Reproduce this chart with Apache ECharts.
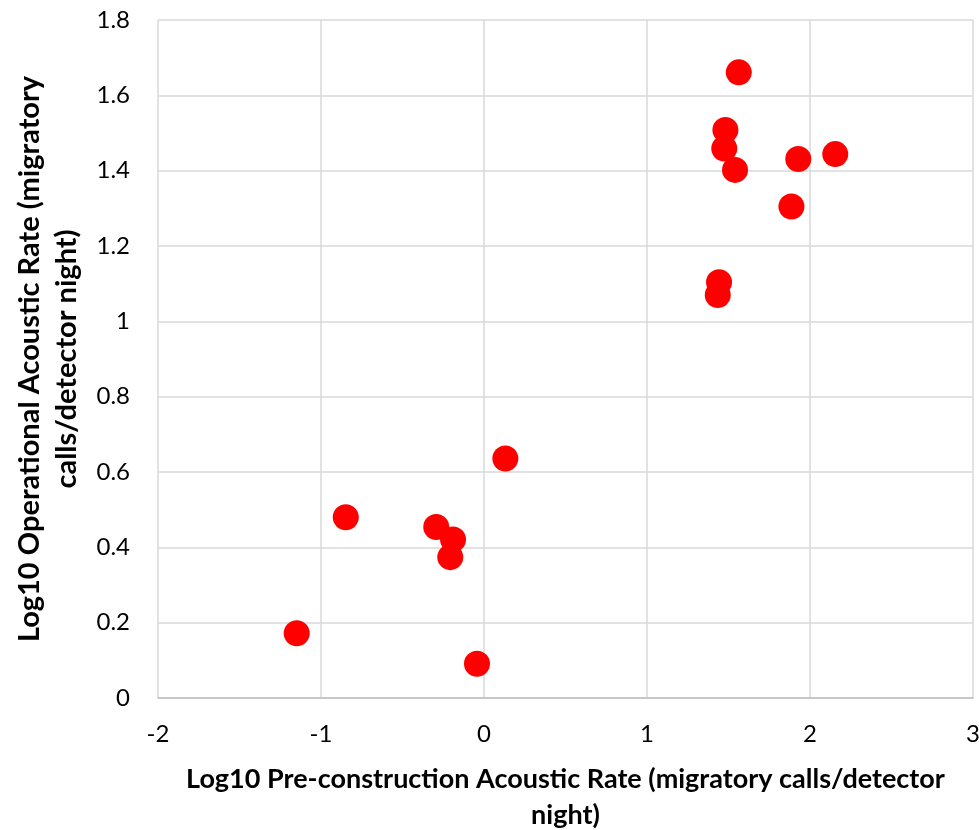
<!DOCTYPE html>
<html>
<head>
<meta charset="utf-8">
<script src="https://cdn.jsdelivr.net/npm/echarts@6/dist/echarts.min.js"></script>
<style>
  html, body { margin: 0; padding: 0; background: #fff; }
  #chart { width: 979px; height: 830px; }
</style>
</head>
<body>
<div id="chart"></div>
<script>
// Valores (log10)
const preRate = [-1.149, -0.848, -0.293, -0.190, -0.207, -0.043, 0.131,
                 1.442, 1.434, 1.540, 1.474, 1.481, 1.563, 1.928, 1.886, 2.155];
const opRate = [0.172, 0.480, 0.454, 0.421, 0.374, 0.091, 0.636,
                1.104, 1.070, 1.402, 1.459, 1.508, 1.661, 1.431, 1.305, 1.444];

const xTitle = 'Log10 Pre-construction Acoustic Rate (migratory calls/detector\nnight)';
const yTitle = 'Log10 Operational Acoustic Rate (migratory\ncalls/detector night)';

const points = preRate.map((x, i) => [x, opRate[i]]);

const chart = echarts.init(document.getElementById('chart'));
const fontFamily = 'Lato, "Open Sans", sans-serif';

chart.setOption({
    animation: false,
    grid: { left: 158, right: 6, top: 20, bottom: 132, outerBoundsMode: 'none' },
    xAxis: {
        type: 'value',
        min: -2,
        max: 3,
        interval: 1,
        name: xTitle,
        nameLocation: 'middle',
        nameGap: 63,
        nameTextStyle: { fontFamily, fontSize: 27, fontWeight: 'bold', color: '#000', lineHeight: 36 },
        axisLine: { show: true, lineStyle: { color: '#bfbfbf', width: 1.5 } },
        axisTick: { show: false },
        axisLabel: { fontFamily, fontSize: 24, color: '#000', margin: 24 },
        splitLine: { show: true, lineStyle: { color: '#d9d9d9', width: 1.5 } }
    },
    yAxis: {
        type: 'value',
        min: 0,
        max: 1.8,
        interval: 0.2,
        name: yTitle,
        nameLocation: 'middle',
        nameGap: 71,
        nameTextStyle: { fontFamily, fontSize: 29, fontWeight: 'bold', color: '#000', lineHeight: 37 },
        axisLine: { show: false },
        axisTick: { show: false },
        axisLabel: {
            fontFamily, fontSize: 24, color: '#000', margin: 28,
            formatter: v => (Math.round(v * 10) / 10).toString()
        },
        splitLine: { show: true, lineStyle: { color: '#d9d9d9', width: 1.5 } }
    },
    series: [{
        type: 'scatter',
        data: points,
        symbol: 'circle',
        symbolSize: 26,
        itemStyle: { color: '#ff0000', opacity: 1 }
    }]
});
</script>
</body>
</html>
